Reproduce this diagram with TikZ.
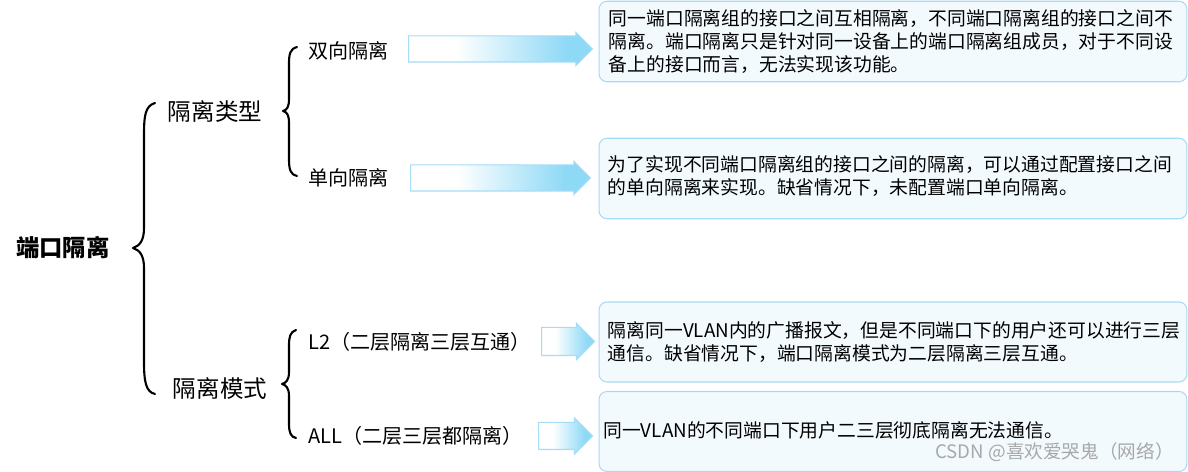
\documentclass[tikz,border=0pt]{standalone}
\usepackage{fontspec}
\setmainfont{Noto Sans CJK SC}
\usetikzlibrary{shapes.arrows}

\definecolor{boxfill}{HTML}{F3FAFE}
\definecolor{boxedge}{HTML}{A5DBF4}
\definecolor{arrowblue}{HTML}{8ED9F6}
\definecolor{arrowedge}{HTML}{A6DCF6}
\definecolor{markgray}{HTML}{A8A8A8}
\pgfdeclarehorizontalshading{arrowshade}{100bp}{color(0bp)=(white); color(25bp)=(white); color(38bp)=(white); color(68bp)=(arrowblue); color(100bp)=(arrowblue)}

\begin{document}
\begin{tikzpicture}[x=0.02cm,y=-0.02cm]
\tikzset{
  rootlabel/.style={inner sep=0pt,font=\fontsize{13.3}{16}\selectfont\bfseries},
  grouplabel/.style={inner sep=0pt,font=\fontsize{13.4}{16}\selectfont},
  itemlabel/.style={anchor=west,inner sep=0pt,font=\fontsize{11.4}{14}\selectfont},
  notebox/.style={draw=boxedge,fill=boxfill,line width=0.6pt,rounded corners=4.5pt,minimum width=11.76cm,minimum height=1.61cm,inner sep=0pt},
  notetext/.style={anchor=west,align=left,inner sep=0pt,font=\fontsize{10.7}{13}\selectfont},
  flowarrow/.style={single arrow,anchor=tail,shade,shading=arrowshade,draw=arrowedge,line width=0.6pt,inner xsep=0pt,inner ysep=0.25cm,single arrow head extend=0.07cm,minimum width=0pt},
  bracestroke/.style={draw=black,line width=1.2pt,line cap=round,line join=round}
}
\useasboundingbox (0,0) rectangle (1188,472);

% tree labels
\node[rootlabel] (n_root) at (63,248) {端口隔离};
\node[grouplabel] (n_type) at (215,111) {隔离类型};
\node[grouplabel] (n_mode) at (220,389) {隔离模式};
\node[itemlabel] (n_both) at (308,51) {双向隔离};
\node[itemlabel] (n_one) at (308,178) {单向隔离};
\node[itemlabel] (n_ltwo) at (308,342) {L2（二层隔离三层互通）};
\node[itemlabel] (n_all) at (308,436) {ALL（二层三层都隔离）};

% braces
\draw[bracestroke] (155,103) .. controls (145,106) and (144,116) .. (144,136) -- (144,228)
  .. controls (144,240) and (140,246) .. (133,248) .. controls (140,250) and (144,256) .. (144,268)
  -- (144,362) .. controls (144,382) and (146,392) .. (155,394);
\draw[bracestroke] (297,47) .. controls (290,49) and (289,54) .. (289,64) -- (289,99)
  .. controls (289,107) and (287,110) .. (283,111) .. controls (287,112) and (289,115) .. (289,123)
  -- (289,160) .. controls (289,170) and (291,175) .. (297,176);
\draw[bracestroke] (296,330) .. controls (290,332) and (289,337) .. (289,346) -- (289,372)
  .. controls (289,380) and (286,383) .. (282,384) .. controls (286,385) and (289,388) .. (289,396)
  -- (289,424) .. controls (289,433) and (291,437) .. (296,438);

% arrows
\node[flowarrow,minimum height=3.68cm] (a_both) at (408,49) {};
\node[flowarrow,minimum height=3.60cm] (a_one) at (410,178) {};
\node[flowarrow,minimum height=1.06cm,inner ysep=0.27cm,single arrow head extend=0.08cm] (a_ltwo) at (541,341.5) {};
\node[flowarrow,minimum height=1.08cm,inner ysep=0.26cm,single arrow head extend=0.09cm] (a_all) at (538,436) {};

% notes
\node[notebox] (b_both) at (893,41.5) {};
\node[notebox] (b_one) at (893,178.5) {};
\node[notebox,minimum height=1.60cm] (b_ltwo) at (893,342) {};
\node[notebox,minimum height=1.60cm] (b_all) at (893,431.5) {};
\node[notetext] (t_both) at ([xshift=0.2cm]b_both.west) {同一端口隔离组的接口之间互相隔离，不同端口隔离组的接口之间不\\隔离。端口隔离只是针对同一设备上的端口隔离组成员，对于不同设\\备上的接口而言，无法实现该功能。};
\node[notetext] (t_one) at ([xshift=0.18cm,yshift=0.05cm]b_one.west) {为了实现不同端口隔离组的接口之间的隔离，可以通过配置接口之间\\的单向隔离来实现。缺省情况下，未配置端口单向隔离。};
\node[notetext] (t_ltwo) at ([xshift=0.18cm]b_ltwo.west) {隔离同一VLAN内的广播报文，但是不同端口下的用户还可以进行三层\\通信。缺省情况下，端口隔离模式为二层隔离三层互通。};
\node[notetext] (t_all) at ([xshift=0.09cm,yshift=0.02cm]b_all.west) {同一VLAN的不同端口下用户二三层彻底隔离无法通信。};
\node[anchor=east,inner sep=0pt,text=markgray,font=\fontsize{10.6}{13}\selectfont] (n_mark) at (1174,452) {CSDN @喜欢爱哭鬼（网络）};
\end{tikzpicture}
\end{document}
